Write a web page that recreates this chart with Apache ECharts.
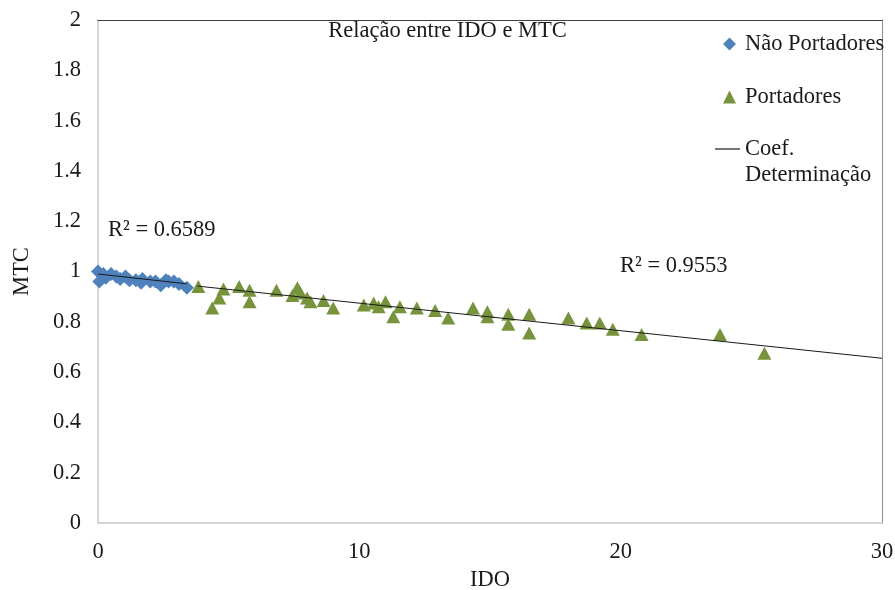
<!DOCTYPE html>
<html>
<head>
<meta charset="utf-8">
<script src="https://cdn.jsdelivr.net/npm/echarts@6/dist/echarts.min.js"></script>
<style>
  html, body { margin: 0; padding: 0; background: #fff; }
  #chart { width: 895px; height: 590px; }
</style>
</head>
<body>
<div id="chart"></div>
<script>
// Não Portadores (IDO, MTC)
const nonCarrierIDO = [0, 0.05, 0.2, 0.3, 0.5, 0.7, 0.85, 1.05, 1.2, 1.45, 1.65, 1.7, 2.0, 2.2, 2.4, 2.6, 2.7, 2.9, 3.1, 3.4];
const nonCarrierMTC = [1.0, 0.96, 0.99, 0.975, 0.99, 0.98, 0.97, 0.98, 0.965, 0.965, 0.955, 0.97, 0.96, 0.96, 0.945, 0.965, 0.96, 0.96, 0.95, 0.935];

// Portadores (IDO, MTC)
const carrierIDO = [3.84, 4.37, 4.64, 4.8, 5.4, 5.8, 5.8, 6.83, 7.44, 7.63, 7.75, 8.0, 8.13, 8.63, 9.0,
  10.17, 10.55, 10.74, 11.0, 11.3, 11.55, 12.2, 12.9, 13.4, 14.35, 14.9, 14.9, 15.7, 15.7, 16.5, 16.5,
  18.0, 18.7, 19.2, 19.7, 20.8, 23.8, 25.5];
const carrierMTC = [0.94, 0.855, 0.895, 0.93, 0.94, 0.925, 0.88, 0.925, 0.905, 0.935, 0.915, 0.895, 0.88, 0.885, 0.855,
  0.867, 0.875, 0.86, 0.88, 0.82, 0.86, 0.855, 0.845, 0.815, 0.855, 0.84, 0.82, 0.83, 0.79, 0.83, 0.755,
  0.815, 0.795, 0.795, 0.77, 0.75, 0.75, 0.675];

// Trend line end points (IDO, MTC)
const nonCarrierTrendIDO = [0, 3.4];
const nonCarrierTrendMTC = [0.99, 0.951];
const carrierTrendIDO = [3.8, 30];
const carrierTrendMTC = [0.942, 0.655];

const rSquaredLabels = ['R² = 0.6589', 'R² = 0.9553'];
const xTicks = { min: 0, max: 30, interval: 10 };
const yTicks = { min: 0, max: 2, interval: 0.2 };

const pairs = (xs, ys) => xs.map((x, i) => [x, ys[i]]);

const FONT = '"Liberation Serif", "Times New Roman", serif';
const FS = 22.5;
const TXT = '#1a1a1a';
const trendName = 'Coef. Determinação';

const chart = echarts.init(document.getElementById('chart'), null, { renderer: 'canvas' });

chart.setOption({
  animation: false,
  backgroundColor: '#ffffff',
  textStyle: { fontFamily: FONT, color: TXT },
  title: {
    text: 'Relação entre IDO e MTC',
    left: 'center',
    top: 20,
    padding: 0,
    textStyle: { fontFamily: FONT, fontSize: FS, fontWeight: 'normal', color: TXT }
  },
  legend: [
    {
      orient: 'vertical',
      left: 723,
      top: 31,
      padding: 0,
      itemWidth: 13,
      itemHeight: 13,
      itemGap: 27,
      textStyle: { fontFamily: FONT, fontSize: FS, color: TXT, lineHeight: 26, padding: [0, 0, 0, 4] },
      data: [
        { name: 'Não Portadores', icon: 'diamond' },
        { name: 'Portadores', icon: 'triangle' }
      ]
    },
    {
      // the trend entry wraps onto two lines; an empty leading line keeps
      // the line icon level with "Coef."
      orient: 'vertical',
      left: 715,
      top: 110,
      padding: 0,
      itemWidth: 25,
      itemHeight: 1.2,
      formatter: () => '\u00a0\nCoef.\nDeterminação',
      textStyle: { fontFamily: FONT, fontSize: FS, color: TXT, lineHeight: 26 },
      data: [{ name: trendName, icon: 'rect', itemStyle: { color: '#1a1a1a' } }]
    }
  ],
  grid: { left: 98, right: 13, top: 20, bottom: 67, outerBoundsMode: 'none' },
  xAxis: [
    {
      type: 'value',
      min: xTicks.min, max: xTicks.max, interval: xTicks.interval,
      name: 'IDO',
      nameLocation: 'middle',
      nameGap: 45,
      nameTextStyle: { fontFamily: FONT, fontSize: FS, color: TXT },
      axisLine: { show: true, onZero: false, lineStyle: { color: '#c8c8c8', width: 1.5 } },
      axisTick: { show: false },
      splitLine: { show: false },
      axisLabel: { margin: 18, fontFamily: FONT, fontSize: FS, color: TXT }
    },
    {
      type: 'value',
      position: 'top',
      min: xTicks.min, max: xTicks.max,
      axisLine: { show: true, onZero: false, lineStyle: { color: '#404040', width: 1.2 } },
      axisTick: { show: false },
      axisLabel: { show: false },
      splitLine: { show: false }
    }
  ],
  yAxis: [
    {
      type: 'value',
      min: yTicks.min, max: yTicks.max, interval: yTicks.interval,
      name: 'MTC',
      nameLocation: 'middle',
      nameGap: 64,
      nameRotate: 90,
      nameTextStyle: { fontFamily: FONT, fontSize: FS, color: TXT },
      axisLine: { show: true, onZero: false, lineStyle: { color: '#c8c8c8', width: 1.5 } },
      axisTick: { show: false },
      splitLine: { show: false },
      axisLabel: { margin: 17, fontFamily: FONT, fontSize: FS, color: TXT }
    },
    {
      type: 'value',
      position: 'right',
      min: yTicks.min, max: yTicks.max,
      axisLine: { show: true, onZero: false, lineStyle: { color: '#8c8c8c', width: 1 } },
      axisTick: { show: false },
      axisLabel: { show: false },
      splitLine: { show: false }
    }
  ],
  series: [
    {
      name: 'Não Portadores',
      type: 'scatter',
      symbol: 'diamond',
      symbolSize: [14, 14],
      itemStyle: { color: '#4f81bd', opacity: 1 },
      data: pairs(nonCarrierIDO, nonCarrierMTC),
      z: 3
    },
    {
      name: 'Portadores',
      type: 'scatter',
      symbol: 'triangle',
      symbolSize: [14, 13],
      itemStyle: { color: '#77933c', opacity: 1 },
      data: pairs(carrierIDO, carrierMTC),
      z: 3
    },
    {
      name: trendName,
      type: 'line',
      symbol: 'none',
      lineStyle: { color: '#1a1a1a', width: 1 },
      itemStyle: { color: '#1a1a1a' },
      data: pairs(nonCarrierTrendIDO, nonCarrierTrendMTC),
      z: 4
    },
    {
      name: trendName,
      type: 'line',
      symbol: 'none',
      lineStyle: { color: '#1a1a1a', width: 1 },
      itemStyle: { color: '#1a1a1a' },
      data: pairs(carrierTrendIDO, carrierTrendMTC),
      z: 4
    }
  ],
  graphic: [
    {
      type: 'text', left: 108, top: 219,
      style: { text: rSquaredLabels[0], font: FS + 'px ' + FONT, fill: TXT }
    },
    {
      type: 'text', left: 620, top: 255,
      style: { text: rSquaredLabels[1], font: FS + 'px ' + FONT, fill: TXT }
    }
  ]
});
</script>
</body>
</html>
